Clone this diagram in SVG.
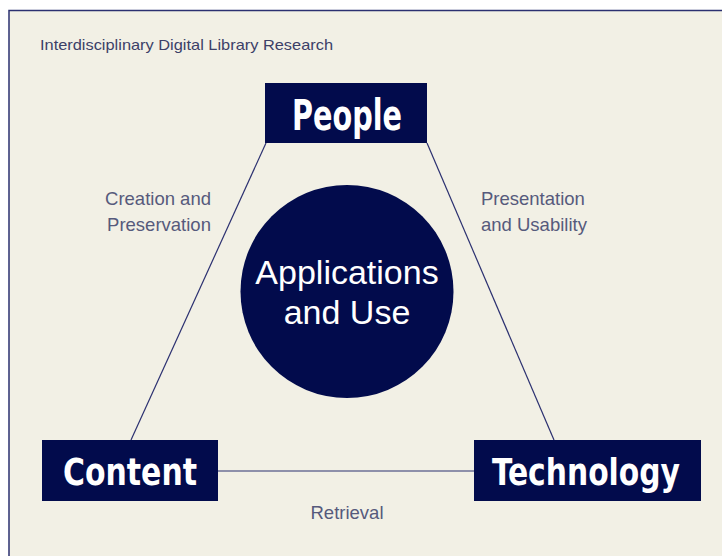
<svg xmlns="http://www.w3.org/2000/svg" width="722" height="556" viewBox="0 0 722 556">
<style>
.box{fill:#020b4c;}
.lbl{font-family:"DejaVu Sans Condensed","DejaVu Sans",sans-serif;font-stretch:condensed;font-weight:bold;fill:#ffffff;text-anchor:middle;}
.edge{font-family:"Liberation Sans",Arial,sans-serif;font-size:18.5px;fill:#565a7c;}
.conn{stroke:#2b3070;stroke-width:1.2;fill:none;}
.mid{font-family:"Liberation Sans",Arial,sans-serif;font-size:34px;fill:#ffffff;text-anchor:middle;}
</style>
<rect x="0" y="0" width="722" height="556" fill="#ffffff"/>
<rect x="9" y="10.5" width="720" height="560" fill="#f2f0e5" stroke="#2b3070" stroke-width="1.5"/>
<text x="40" y="50" font-family="Liberation Sans,Arial,sans-serif" font-size="14.5" fill="#3c4068" textLength="293" lengthAdjust="spacingAndGlyphs">Interdisciplinary Digital Library Research</text>
<g id="connectors">
<line class="conn" x1="266" y1="143" x2="131" y2="440"/>
<line class="conn" x1="427" y1="143" x2="554" y2="440"/>
<line class="conn" x1="218" y1="471" x2="474" y2="471"/>
</g>
<g id="edge-labels">
<text class="edge" x="158" y="205" text-anchor="middle">Creation and</text>
<text class="edge" x="159" y="231" text-anchor="middle">Preservation</text>
<text class="edge" x="481" y="205">Presentation</text>
<text class="edge" x="481" y="231">and Usability</text>
<text class="edge" x="347" y="519" text-anchor="middle">Retrieval</text>
</g>
<g id="center">
<circle cx="347" cy="291.5" r="106.5" fill="#020b4c"/>
<text class="mid" x="347" y="284">Applications</text>
<text class="mid" x="347" y="324">and Use</text>
</g>
<g id="people">
<rect class="box" x="265" y="83" width="162" height="60"/>
<text class="lbl" x="347" y="130" font-size="42" textLength="110" lengthAdjust="spacingAndGlyphs">People</text>
</g>
<g id="content">
<rect class="box" x="42" y="440" width="176" height="61"/>
<text class="lbl" x="130" y="485" font-size="38" textLength="134" lengthAdjust="spacingAndGlyphs">Content</text>
</g>
<g id="technology">
<rect class="box" x="474" y="440" width="227" height="61"/>
<text class="lbl" x="586" y="485" font-size="38" textLength="188" lengthAdjust="spacingAndGlyphs">Technology</text>
</g>
</svg>
